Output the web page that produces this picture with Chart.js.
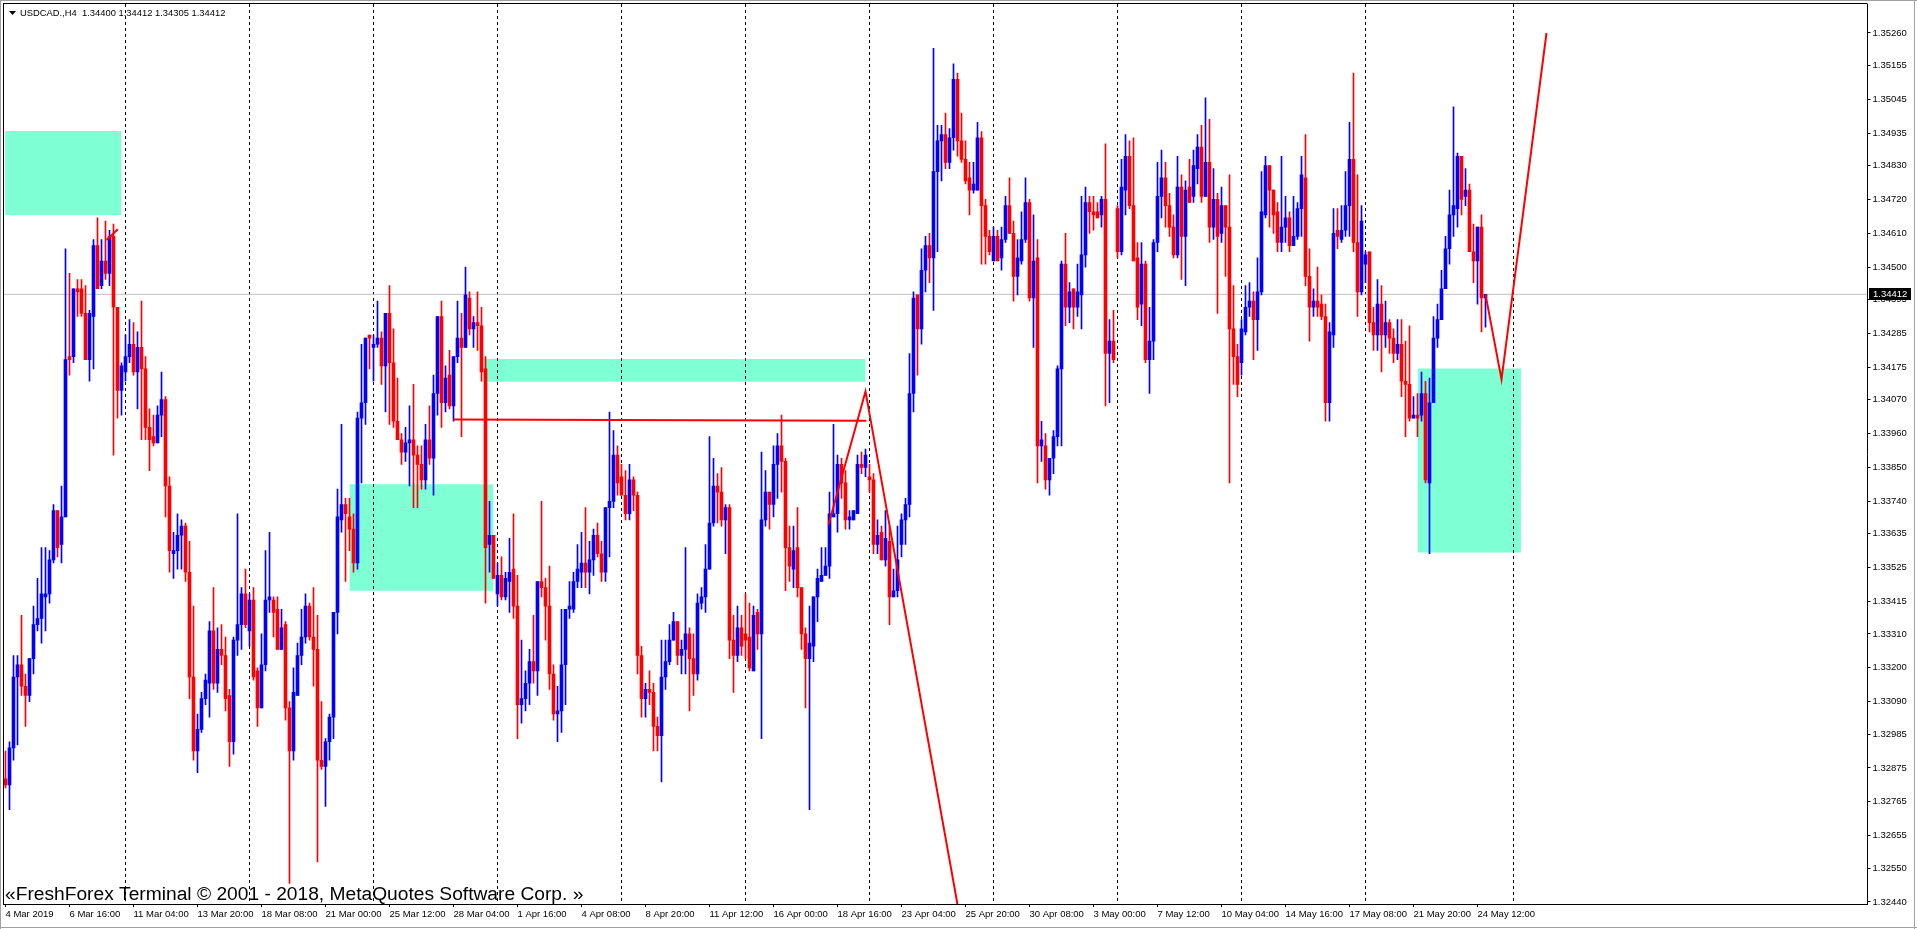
<!DOCTYPE html>
<html>
<head>
<meta charset="utf-8">
<title>USDCAD.,H4</title>
<script src="https://cdn.jsdelivr.net/npm/chart.js@4.4.1/dist/chart.umd.min.js"></script>
<style>
  html, body { margin: 0; padding: 0; background: #fff; overflow: hidden; }
  #wrap { width: 1917px; height: 929px; }
</style>
</head>
<body>
<div id="wrap"><canvas id="chart" width="1917" height="929"></canvas></div>
<script>
// USDCAD H4, 4 Mar 2019 - 24 May 2019, one entry per bar
const barOpen = [
  1.3284,1.3282,1.3294,1.3317,1.3321,1.3314,1.3311,1.3323,1.3334,1.3336,
  1.3343,1.3344,1.3355,1.3371,1.3360,1.3369,1.3421,1.3421,1.3443,1.3443,
  1.3435,1.3420,1.3434,1.3457,1.3444,1.3452,1.3448,1.3460,1.3437,1.3410,
  1.3416,1.3421,1.3425,1.3416,1.3424,1.3417,1.3398,1.3395,1.3393,1.3402,
  1.3407,1.3379,1.3357,1.3358,1.3363,1.3366,1.3351,1.3317,1.3293,1.3300,
  1.3310,1.3315,1.3332,1.3315,1.3326,1.3324,1.3311,1.3296,1.3329,1.3334,
  1.3344,1.3332,1.3342,1.3319,1.3307,1.3321,1.3342,1.3342,1.3339,1.3326,
  1.3334,1.3307,1.3293,1.3311,1.3324,1.3330,1.3340,1.3330,1.3326,1.3290,
  1.3288,1.3296,1.3304,1.3338,1.3368,1.3373,1.3369,1.3365,1.3354,1.3401,
  1.3406,1.3428,1.3424,1.3425,1.3427,1.3418,1.3435,1.3419,1.3400,1.3394,
  1.3390,1.3393,1.3394,1.3389,1.3386,1.3381,1.3394,1.3388,1.3409,1.3434,
  1.3406,1.3415,1.3405,1.3421,1.3427,1.3424,1.3440,1.3430,1.3432,1.3431,
  1.3417,1.3360,1.3363,1.3344,1.3350,1.3343,1.3348,1.3352,1.3340,1.3308,
  1.3310,1.3315,1.3322,1.3319,1.3348,1.3346,1.3340,1.3318,1.3305,1.3306,
  1.3321,1.3339,1.3339,1.3348,1.3351,1.3354,1.3351,1.3355,1.3363,1.3357,
  1.3351,1.3372,1.3374,1.3389,1.3382,1.3376,1.3370,1.3381,1.3376,1.3324,
  1.3310,1.3313,1.3312,1.3301,1.3298,1.3317,1.3322,1.3329,1.3335,1.3324,
  1.3326,1.3331,1.3323,1.3318,1.3341,1.3343,1.3352,1.3367,1.3379,1.3377,
  1.3368,1.3372,1.3329,1.3324,1.3333,1.3331,1.3330,1.3319,1.3338,1.3331,
  1.3368,1.3377,1.3373,1.3386,1.3392,1.3387,1.3359,1.3352,1.3359,1.3346,
  1.3331,1.3323,1.3327,1.3343,1.3348,1.3350,1.3353,1.3369,1.3370,1.3386,
  1.3380,1.3368,1.3368,1.3370,1.3386,1.3385,1.3382,1.3381,1.3360,1.3364,
  1.3355,1.3361,1.3343,1.3345,1.3360,1.3368,1.3373,1.3409,1.3441,1.3430,
  1.3449,1.3457,1.3453,1.3481,1.3491,1.3493,1.3484,1.3492,1.3511,1.3491,
  1.3485,1.3479,1.3475,1.3475,1.3492,1.3470,1.3460,1.3452,1.3460,1.3453,
  1.3459,1.3470,1.3461,1.3447,1.3452,1.3459,1.3471,1.3440,1.3453,1.3392,
  1.3392,1.3381,1.3388,1.3395,1.3417,1.3451,1.3437,1.3443,1.3437,1.3441,
  1.3454,1.3471,1.3468,1.3468,1.3467,1.3472,1.3422,1.3426,1.3469,1.3455,
  1.3475,1.3486,1.3470,1.3453,1.3438,1.3451,1.3420,1.3426,1.3458,1.3473,
  1.3479,1.3470,1.3463,1.3454,1.3476,1.3460,1.3476,1.3473,1.3482,1.3489,
  1.3473,1.3484,1.3463,1.3472,1.3461,1.3470,1.3463,1.3430,1.3421,1.3419,
  1.3429,1.3437,1.3439,1.3433,1.3442,1.3467,1.3483,1.3475,1.3468,1.3458,
  1.3463,1.3466,1.3457,1.3460,1.3469,1.3479,1.3447,1.3437,1.3439,1.3438,
  1.3434,1.3406,1.3428,1.3462,1.3459,1.3462,1.3470,1.3485,1.3458,1.3442,
  1.3451,1.3455,1.3432,1.3428,1.3438,1.3428,1.3432,1.3427,1.3422,1.3425,
  1.3413,1.3412,1.3401,1.3402,1.3402,1.3409,1.3380,1.3406,1.3427,1.3433,
  1.3443,1.3456,1.3467,1.3469,1.3486,1.3473,1.3475,1.3455,1.3452,1.3463,
  1.34400
];
const barHigh = [
  1.3293,1.3296,1.3324,1.3324,1.3337,1.3318,1.3323,1.3340,1.3349,1.3359,
  1.3359,1.3358,1.3373,1.3371,1.3379,1.3456,1.3448,1.3443,1.3446,1.3446,
  1.3444,1.3436,1.3459,1.3466,1.3459,1.3465,1.3462,1.3464,1.3437,1.3419,
  1.3428,1.3433,1.3432,1.3429,1.3439,1.3421,1.3404,1.3402,1.3405,1.3416,
  1.3408,1.3382,1.3364,1.3370,1.3368,1.3367,1.3361,1.3340,1.3305,1.3312,
  1.3318,1.3335,1.3346,1.3333,1.3334,1.3330,1.3313,1.3330,1.3370,1.3346,
  1.3352,1.3344,1.3346,1.3320,1.3331,1.3358,1.3364,1.3343,1.3343,1.3339,
  1.3335,1.3309,1.3320,1.3328,1.3339,1.3344,1.3341,1.3346,1.3337,1.3309,
  1.3297,1.3305,1.3338,1.3378,1.3399,1.3375,1.3375,1.3370,1.3403,1.3425,
  1.3427,1.3428,1.3428,1.3439,1.3429,1.3435,1.3444,1.3430,1.3414,1.3396,
  1.3398,1.3405,1.3412,1.3392,1.3392,1.3399,1.3405,1.3415,1.3434,1.3439,
  1.3418,1.3423,1.3421,1.3439,1.3435,1.3450,1.3442,1.3434,1.3442,1.3437,
  1.3421,1.3374,1.3363,1.3354,1.3356,1.3351,1.3362,1.3370,1.3350,1.3329,
  1.3319,1.3326,1.3337,1.3348,1.3374,1.3349,1.3353,1.3321,1.3314,1.3339,
  1.3339,1.3348,1.3351,1.3360,1.3364,1.3372,1.3361,1.3365,1.3367,1.3361,
  1.3372,1.3403,1.3397,1.3392,1.3386,1.3384,1.3386,1.3382,1.3377,1.3327,
  1.3315,1.3319,1.3315,1.3304,1.3329,1.3329,1.3334,1.3338,1.3335,1.3329,
  1.3359,1.3333,1.3331,1.3344,1.3346,1.3360,1.3395,1.3388,1.3383,1.3385,
  1.3373,1.3373,1.3337,1.3340,1.3337,1.3344,1.3341,1.3340,1.3339,1.3390,
  1.3384,1.3377,1.3392,1.3396,1.3402,1.3388,1.3366,1.3366,1.3372,1.3346,
  1.3333,1.3340,1.3343,1.3352,1.3359,1.3359,1.3377,1.3399,1.3389,1.3388,
  1.3384,1.3371,1.3371,1.3389,1.3390,1.3391,1.3386,1.3383,1.3368,1.3366,
  1.3371,1.3366,1.3352,1.3366,1.3370,1.3375,1.3422,1.3442,1.3441,1.3456,
  1.3460,1.3461,1.3521,1.3496,1.3496,1.3500,1.3495,1.3516,1.3513,1.3500,
  1.3491,1.3484,1.3484,1.3497,1.3494,1.3472,1.3462,1.3463,1.3462,1.3463,
  1.3473,1.3479,1.3465,1.3459,1.3468,1.3479,1.3472,1.3467,1.3459,1.3400,
  1.3396,1.3388,1.3397,1.3418,1.3452,1.3461,1.3445,1.3443,1.3451,1.3473,
  1.3476,1.3473,1.3473,1.3471,1.3473,1.3490,1.3433,1.3436,1.3470,1.3485,
  1.3493,1.3491,1.3492,1.3458,1.3458,1.3452,1.3437,1.3459,1.3484,1.3488,
  1.3484,1.3474,1.3467,1.3486,1.3480,1.3478,1.3485,1.3488,1.3493,1.3496,
  1.3505,1.3498,1.3482,1.3474,1.3476,1.3470,1.3480,1.3444,1.3425,1.3433,
  1.3444,1.3445,1.3442,1.3453,1.3481,1.3486,1.3483,1.3475,1.3471,1.3486,
  1.3473,1.3468,1.3473,1.3471,1.3486,1.3493,1.3456,1.3443,1.3450,1.3441,
  1.3438,1.3432,1.3469,1.3469,1.3470,1.3481,1.3497,1.3513,1.3480,1.3470,
  1.3455,1.3455,1.3437,1.3446,1.3444,1.3439,1.3433,1.3430,1.3433,1.3433,
  1.3426,1.3431,1.3408,1.3409,1.3416,1.3413,1.3414,1.3434,1.3438,1.3449,
  1.3460,1.3475,1.3502,1.3487,1.3486,1.3482,1.3477,1.3464,1.3463,1.3467,
  1.34412
];
const barLow = [
  1.3281,1.3274,1.3290,1.3295,1.3311,1.3301,1.3309,1.3318,1.3332,1.3328,
  1.3332,1.3341,1.3354,1.3356,1.3354,1.3369,1.3415,1.3419,1.3434,1.3434,
  1.3420,1.3413,1.3417,1.3443,1.3443,1.3446,1.3444,1.3389,1.3401,1.3402,
  1.3413,1.3419,1.3415,1.3404,1.3394,1.3394,1.3384,1.3392,1.3393,1.3395,
  1.3369,1.3351,1.3349,1.3352,1.3352,1.3348,1.3310,1.3290,1.3286,1.3299,
  1.3308,1.3304,1.3313,1.3312,1.3321,1.3306,1.3288,1.3292,1.3324,1.3326,
  1.3333,1.3327,1.3316,1.3301,1.3307,1.3319,1.3338,1.3330,1.3326,1.3326,
  1.3303,1.3250,1.3290,1.3311,1.3321,1.3328,1.3329,1.3314,1.3257,1.3287,
  1.3275,1.3290,1.3297,1.3331,1.3364,1.3348,1.3358,1.3351,1.3352,1.3380,
  1.3399,1.3417,1.3413,1.3424,1.3412,1.3403,1.3399,1.3398,1.3394,1.3386,
  1.3387,1.3379,1.3372,1.3372,1.3378,1.3378,1.3386,1.3376,1.3402,1.3398,
  1.3403,1.3404,1.3400,1.3419,1.3395,1.3424,1.3428,1.3424,1.3423,1.3413,
  1.3341,1.3351,1.3349,1.3340,1.3342,1.3342,1.3338,1.3336,1.3297,1.3302,
  1.3306,1.3308,1.3315,1.3311,1.3343,1.3329,1.3313,1.3303,1.3296,1.3299,
  1.3308,1.3336,1.3338,1.3346,1.3346,1.3346,1.3344,1.3350,1.3356,1.3348,
  1.3348,1.3356,1.3372,1.3376,1.3376,1.3368,1.3368,1.3371,1.3318,1.3304,
  1.3304,1.3308,1.3293,1.3293,1.3283,1.3313,1.3321,1.3329,1.3321,1.3318,
  1.3318,1.3306,1.3311,1.3316,1.3339,1.3338,1.3352,1.3366,1.3367,1.3366,
  1.3357,1.3323,1.3312,1.3322,1.3324,1.3323,1.3319,1.3319,1.3326,1.3297,
  1.3366,1.3365,1.3369,1.3375,1.3377,1.3345,1.3348,1.3346,1.3343,1.3326,
  1.3307,1.3274,1.3322,1.3335,1.3348,1.3350,1.3349,1.3369,1.3364,1.3375,
  1.3365,1.3365,1.3368,1.3370,1.3383,1.3382,1.3377,1.3357,1.3357,1.3355,
  1.3353,1.3334,1.3343,1.3343,1.3356,1.3360,1.3369,1.3403,1.3415,1.3425,
  1.3442,1.3445,1.3436,1.3455,1.3478,1.3482,1.3482,1.3488,1.3486,1.3484,
  1.3477,1.3467,1.3474,1.3475,1.3451,1.3451,1.3454,1.3452,1.3452,1.3449,
  1.3458,1.3461,1.3439,1.3441,1.3451,1.3458,1.3439,1.3424,1.3380,1.3387,
  1.3378,1.3376,1.3383,1.3392,1.3392,1.3431,1.3432,1.3430,1.3434,1.3430,
  1.3450,1.3461,1.3462,1.3466,1.3463,1.3405,1.3406,1.3419,1.3453,1.3454,
  1.3467,1.3469,1.3452,1.3433,1.3431,1.3419,1.3409,1.3420,1.3455,1.3466,
  1.3463,1.3460,1.3453,1.3453,1.3446,1.3444,1.3471,1.3471,1.3477,1.3471,
  1.3473,1.3458,1.3459,1.3435,1.3458,1.3447,1.3380,1.3412,1.3408,1.3415,
  1.3428,1.3434,1.3420,1.3423,1.3441,1.3466,1.3463,1.3461,1.3455,1.3455,
  1.3458,1.3455,1.3457,1.3459,1.3460,1.3444,1.3426,1.3434,1.3434,1.3433,
  1.3400,1.3400,1.3424,1.3456,1.3458,1.3460,1.3460,1.3455,1.3434,1.3441,
  1.3445,1.3429,1.3423,1.3423,1.3416,1.3424,1.3422,1.3419,1.3420,1.3408,
  1.3395,1.3400,1.3401,1.3395,1.3400,1.3380,1.3357,1.3406,1.3424,1.3433,
  1.3443,1.3451,1.3460,1.3463,1.3467,1.3470,1.3455,1.3445,1.3438,1.3429,
  1.34305
];
const barClose = [
  1.3282,1.3294,1.3317,1.3321,1.3314,1.3311,1.3323,1.3334,1.3336,1.3344,
  1.3344,1.3355,1.3371,1.3359,1.3369,1.3420,1.3420,1.3443,1.3442,1.3435,
  1.3420,1.3435,1.3457,1.3443,1.3452,1.3448,1.3460,1.3437,1.3410,1.3418,
  1.3421,1.3425,1.3416,1.3424,1.3417,1.3398,1.3394,1.3393,1.3402,1.3407,
  1.3379,1.3358,1.3358,1.3363,1.3366,1.3351,1.3317,1.3293,1.3300,1.3310,
  1.3316,1.3332,1.3315,1.3326,1.3324,1.3310,1.3296,1.3329,1.3334,1.3344,
  1.3334,1.3342,1.3317,1.3307,1.3321,1.3342,1.3343,1.3338,1.3326,1.3333,
  1.3307,1.3293,1.3312,1.3324,1.3330,1.3340,1.3330,1.3326,1.3290,1.3288,
  1.3296,1.3304,1.3338,1.3369,1.3373,1.3370,1.3365,1.3354,1.3401,1.3406,
  1.3427,1.3427,1.3425,1.3427,1.3418,1.3435,1.3419,1.3400,1.3394,1.3390,
  1.3393,1.3394,1.3389,1.3386,1.3381,1.3394,1.3388,1.3409,1.3434,1.3406,
  1.3414,1.3405,1.3421,1.3427,1.3424,1.3441,1.3430,1.3432,1.3431,1.3416,
  1.3359,1.3363,1.3349,1.3350,1.3343,1.3349,1.3351,1.3340,1.3308,1.3310,
  1.3315,1.3322,1.3319,1.3348,1.3346,1.3340,1.3318,1.3305,1.3306,1.3321,
  1.3339,1.3340,1.3348,1.3352,1.3354,1.3351,1.3355,1.3363,1.3357,1.3351,
  1.3372,1.3374,1.3389,1.3380,1.3376,1.3370,1.3381,1.3376,1.3324,1.3310,
  1.3313,1.3312,1.3301,1.3298,1.3317,1.3322,1.3329,1.3335,1.3324,1.3326,
  1.3331,1.3323,1.3318,1.3341,1.3343,1.3352,1.3367,1.3379,1.3377,1.3368,
  1.3372,1.3329,1.3324,1.3333,1.3327,1.3329,1.3320,1.3337,1.3331,1.3368,
  1.3377,1.3373,1.3386,1.3392,1.3387,1.3359,1.3353,1.3358,1.3346,1.3331,
  1.3323,1.3328,1.3343,1.3349,1.3350,1.3353,1.3370,1.3370,1.3386,1.3380,
  1.3368,1.3369,1.3371,1.3386,1.3385,1.3389,1.3381,1.3360,1.3363,1.3355,
  1.3362,1.3343,1.3345,1.3355,1.3368,1.3373,1.3409,1.3440,1.3430,1.3449,
  1.3457,1.3453,1.3481,1.3491,1.3493,1.3484,1.3492,1.3511,1.3491,1.3485,
  1.3478,1.3475,1.3477,1.3492,1.3470,1.3460,1.3455,1.3460,1.3452,1.3459,
  1.3470,1.3461,1.3447,1.3453,1.3459,1.3471,1.3440,1.3452,1.3392,1.3394,
  1.3381,1.3388,1.3395,1.3417,1.3451,1.3437,1.3442,1.3437,1.3442,1.3454,
  1.3471,1.3468,1.3467,1.3466,1.3472,1.3422,1.3426,1.3420,1.3455,1.3476,
  1.3486,1.3470,1.3452,1.3437,1.3451,1.3420,1.3426,1.3458,1.3473,1.3479,
  1.3470,1.3463,1.3454,1.3476,1.3460,1.3475,1.3471,1.3483,1.3489,1.3473,
  1.3484,1.3463,1.3472,1.3460,1.3470,1.3463,1.3430,1.3421,1.3412,1.3430,
  1.3437,1.3439,1.3433,1.3442,1.3468,1.3483,1.3475,1.3467,1.3458,1.3463,
  1.3466,1.3457,1.3460,1.3469,1.3480,1.3447,1.3437,1.3439,1.3437,1.3434,
  1.3406,1.3429,1.3461,1.3460,1.3462,1.3470,1.3485,1.3458,1.3442,1.3465,
  1.3454,1.3432,1.3428,1.3438,1.3428,1.3432,1.3427,1.3422,1.3425,1.3413,
  1.3412,1.3401,1.3402,1.3401,1.3409,1.3381,1.3406,1.3427,1.3433,1.3443,
  1.3456,1.3467,1.3470,1.3486,1.3472,1.3475,1.3455,1.3452,1.3463,1.3440,
  1.34412
];

// time axis: one label every 16 bars, starting at bar 0
const xTickLabels = [
  '4 Mar 2019', '6 Mar 16:00', '11 Mar 04:00', '13 Mar 20:00', '18 Mar 08:00', '21 Mar 00:00',
  '25 Mar 12:00', '28 Mar 04:00', '1 Apr 16:00', '4 Apr 08:00', '8 Apr 20:00', '11 Apr 12:00',
  '16 Apr 00:00', '18 Apr 16:00', '23 Apr 04:00', '25 Apr 20:00', '30 Apr 08:00', '3 May 00:00',
  '7 May 12:00', '10 May 04:00', '14 May 16:00', '17 May 08:00', '21 May 20:00', '24 May 12:00'
];
const xTickStep = 16;
const yTickValues = [
  1.35260, 1.35155, 1.35045, 1.34935, 1.34830, 1.34720, 1.34610, 1.34500, 1.34395,
  1.34285, 1.34175, 1.34070, 1.33960, 1.33850, 1.33740, 1.33635, 1.33525, 1.33415,
  1.33310, 1.33200, 1.33090, 1.32985, 1.32875, 1.32765, 1.32655, 1.32550, 1.32440
];
// weekly period separators (bar index)
const weekSeparators = [30, 61, 92, 123, 154, 185, 216, 247, 278, 309, 340, 377];
const bidPrice = 1.34412;

// rectangles: [from bar, to bar, top price, bottom price]
const zones = [
  [-0.1, 29.0, 1.34942, 1.34669],
  [119.5, 215.0, 1.34202, 1.34128],
  [86.0, 122.0, 1.33796, 1.33450],
  [353.0, 378.9, 1.34171, 1.33574]
];
// trend lines: list of [bar, price] points
const trendLines = [
  [[25.25, 1.34588], [28.1, 1.34623]],
  [[112.0, 1.34006], [215.25, 1.34002]],
  [[205.75, 1.33664], [215.0, 1.34097], [238.75, 1.32378]],
  [[370.0, 1.34412], [374.0, 1.34136], [385.25, 1.35260]]
];

const symbolName = 'USDCAD.,H4';
const watermark = '\u00abFreshForex Terminal \u00a9 2001 - 2018, MetaQuotes Software Corp. \u00bb';

const SLOT_COUNT = 466;         // bar slots visible across the window
const PRICE_MIN = 1.324335;
const PRICE_MAX = 1.353541;
const BULL = '#0000ff';
const BEAR = '#ff0000';
const FONT = '"Liberation Sans", Arial, sans-serif';

Chart.defaults.font.family = FONT;
Chart.defaults.font.size = 9.5;
Chart.defaults.color = '#000';

const slots = Array.from({ length: SLOT_COUNT }, (_, i) => String(i));
const barColors = barOpen.map((o, i) => (barClose[i] >= o ? BULL : BEAR));

function lineSet(points, opts) {
  return Object.assign({
    type: 'line',
    xAxisID: 'xl',
    yAxisID: 'y',
    data: points.map(([x, y]) => ({ x, y })),
    pointRadius: 0,
    pointHoverRadius: 0,
    pointHitRadius: 0,
    borderWidth: 1,
    tension: 0,
    fill: false
  }, opts);
}

const datasets = [];
zones.forEach(([from, to, top, bottom]) => {
  datasets.push(lineSet([[from, top], [to, top]], {
    borderWidth: 0,
    borderColor: 'rgba(0,0,0,0)',
    backgroundColor: '#7fffd4',
    fill: { value: bottom },
    order: 50
  }));
});
weekSeparators.forEach(s => {
  datasets.push(lineSet([[s, PRICE_MAX], [s, PRICE_MIN]], {
    borderColor: '#000',
    borderDash: [3, 3],
    order: 40
  }));
});
datasets.push(lineSet([[-0.5, bidPrice], [SLOT_COUNT - 0.5, bidPrice]], {
  borderColor: '#c0c0c0',
  order: 30
}));
datasets.push({
  type: 'bar',
  label: 'range',
  data: barLow.map((l, i) => [l, barHigh[i]]),
  backgroundColor: barColors,
  barThickness: 1,
  grouped: false,
  order: 20
});
datasets.push({
  type: 'bar',
  label: 'body',
  data: barOpen.map((o, i) => [o, barClose[i]]),
  backgroundColor: barColors,
  barThickness: 3,
  minBarLength: 1,
  grouped: false,
  order: 10
});
trendLines.forEach(pts => {
  datasets.push(lineSet(pts, { borderColor: '#ff0000', borderWidth: 2, order: 0 }));
});

// title, watermark, bid marker and window frame
const terminalDecor = {
  id: 'terminalDecor',
  afterDraw(chart) {
    const { ctx, chartArea, scales } = chart;
    const last = barOpen.length - 1;
    ctx.save();

    ctx.fillStyle = '#a0a0a0';
    ctx.fillRect(0, 0, chart.width, 1);
    ctx.fillRect(0, 0, 1, chart.height);
    ctx.fillRect(chart.width - 3, 0, 1, chart.height);
    ctx.fillRect(0, chart.height - 2, chart.width, 1);
    ctx.fillStyle = '#000';
    ctx.fillRect(3, 3, chartArea.right - 3, 1);
    ctx.fillRect(3, 3, 1, chartArea.bottom - 3);

    ctx.beginPath();
    ctx.moveTo(9, 11);
    ctx.lineTo(16, 11);
    ctx.lineTo(12.5, 15);
    ctx.closePath();
    ctx.fill();
    ctx.font = '9.4px ' + FONT;
    ctx.textBaseline = 'middle';
    ctx.textAlign = 'left';
    const ohlc = [barOpen[last], barHigh[last], barLow[last], barClose[last]].map(v => v.toFixed(5)).join(' ');
    ctx.fillText(symbolName + '  ' + ohlc, 20, 13);

    ctx.font = '19.2px ' + FONT;
    ctx.textBaseline = 'alphabetic';
    ctx.fillText(watermark, 5, 900);

    const y = Math.round(scales.y.getPixelForValue(bidPrice));
    ctx.fillStyle = '#000';
    ctx.fillRect(Math.round(chartArea.right) + 1, y - 6, 42, 12);
    ctx.fillStyle = '#fff';
    ctx.font = '9.5px ' + FONT;
    ctx.textBaseline = 'middle';
    ctx.fillText(bidPrice.toFixed(5), Math.round(chartArea.right) + 5, y + 0.5);
    ctx.restore();
  }
};

const isLabelTick = i => i % xTickStep === 0 && i / xTickStep < xTickLabels.length;

new Chart(document.getElementById('chart'), {
  type: 'bar',
  data: { labels: slots, datasets },
  options: {
    responsive: false,
    animation: false,
    devicePixelRatio: 1,
    events: [],
    layout: { padding: { left: 3.5, top: 4, right: 0, bottom: 0 } },
    plugins: { legend: { display: false }, tooltip: { enabled: false } },
    scales: {
      x: {
        type: 'category',
        offset: true,
        afterFit: s => { s.height = 25; s.paddingLeft = 0; s.paddingRight = 0; },
        grid: {
          offset: false,
          drawOnChartArea: false,
          drawTicks: true,
          tickLength: 3,
          tickColor: c => (isLabelTick(c.index) ? '#000' : 'rgba(0,0,0,0)')
        },
        border: { color: '#000', width: 1 },
        ticks: {
          autoSkip: false,
          maxRotation: 0,
          minRotation: 0,
          align: 'start',
          padding: 2,
          callback: (v, i) => (isLabelTick(i) ? xTickLabels[i / xTickStep] : '')
        }
      },
      xl: {
        type: 'linear',
        display: false,
        offset: false,
        min: -0.5,
        max: SLOT_COUNT - 0.5
      },
      y: {
        type: 'linear',
        position: 'right',
        min: PRICE_MIN,
        max: PRICE_MAX,
        afterBuildTicks: s => { s.ticks = yTickValues.map(v => ({ value: v })); },
        afterFit: s => { s.width = 49.5; s.paddingTop = 0; s.paddingBottom = 0; },
        grid: { drawOnChartArea: false, drawTicks: true, tickLength: 3, tickColor: '#000' },
        border: { color: '#000', width: 1 },
        ticks: { padding: 2, callback: v => v.toFixed(5) }
      }
    }
  },
  plugins: [terminalDecor]
});
</script>
</body>
</html>
